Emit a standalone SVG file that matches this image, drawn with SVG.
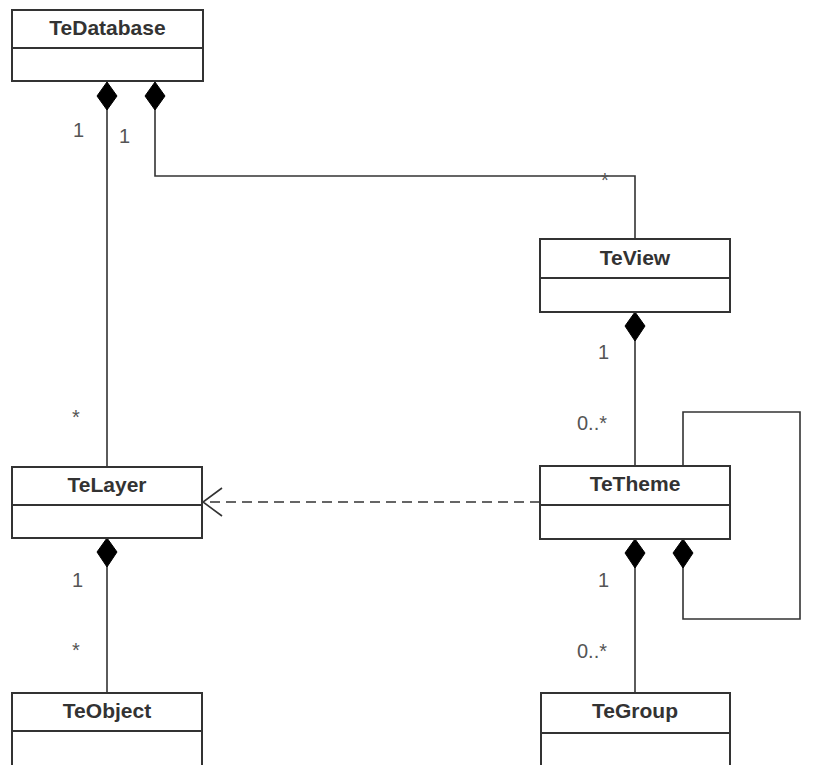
<svg xmlns="http://www.w3.org/2000/svg" width="828" height="765" viewBox="0 0 828 765">
<style>
.box{fill:#fff;stroke:#333;stroke-width:2}
.div{stroke:#333;stroke-width:2}
.t{font-family:"Liberation Sans",Arial,sans-serif;font-weight:bold;font-size:21px;fill:#333;text-anchor:middle}
.l{font-family:"Liberation Sans",Arial,sans-serif;font-size:20px;fill:#555}
.c{fill:none;stroke:#333;stroke-width:1.6}
.d{fill:#000;stroke:#000;stroke-width:1}
</style>
<rect width="828" height="765" fill="#fff"/>
<g id="connectors">
<polyline class="c" points="107,108 107,467"/>
<polyline class="c" points="155,108 155,176 635,176 635,239"/>
<polyline class="c" points="635,340 635,466"/>
<polyline class="c" points="683,466 683,412 800,412 800,619 683,619 683,566"/>
<polyline class="c" points="635,566 635,693"/>
<polyline class="c" points="107,566 107,693"/>
<line class="c" x1="540" y1="502" x2="204" y2="502" stroke-dasharray="10,6"/>
<polyline class="c" points="222,488 203,502 222,516"/>
<polygon class="d" points="107,82 117,96 107,110 97,96"/>
<polygon class="d" points="155,82 165,96 155,110 145,96"/>
<polygon class="d" points="635,312 645,326 635,341 625,326"/>
<polygon class="d" points="635,539 645,553 635,568 625,553"/>
<polygon class="d" points="683,539 693,553 683,568 673,553"/>
<polygon class="d" points="107,538 117,552 107,567 97,552"/>
<text class="l" x="73" y="137">1</text>
<text class="l" x="119" y="143">1</text>
<text class="l" x="601" y="187">*</text>
<text class="l" x="72" y="424">*</text>
<text class="l" x="598" y="359">1</text>
<text class="l" x="577" y="430">0..*</text>
<text class="l" x="598" y="587">1</text>
<text class="l" x="577" y="658">0..*</text>
<text class="l" x="72" y="587">1</text>
<text class="l" x="72" y="657">*</text>
</g>
<g id="TeDatabase">
<rect class="box" x="12" y="10" width="191" height="71"/>
<line class="div" x1="12" y1="48" x2="203" y2="48"/>
<text class="t" x="107.5" y="35">TeDatabase</text>
</g>
<g id="TeView">
<rect class="box" x="540" y="239" width="190" height="73"/>
<line class="div" x1="540" y1="278" x2="730" y2="278"/>
<text class="t" x="635" y="265">TeView</text>
</g>
<g id="TeTheme">
<rect class="box" x="540" y="466" width="190" height="73"/>
<line class="div" x1="540" y1="505" x2="730" y2="505"/>
<text class="t" x="635" y="491">TeTheme</text>
</g>
<g id="TeLayer">
<rect class="box" x="12" y="467" width="190" height="71"/>
<line class="div" x1="12" y1="505" x2="202" y2="505"/>
<text class="t" x="107" y="492">TeLayer</text>
</g>
<g id="TeObject">
<rect class="box" x="12" y="693" width="190" height="80"/>
<line class="div" x1="12" y1="731" x2="202" y2="731"/>
<text class="t" x="107" y="718">TeObject</text>
</g>
<g id="TeGroup">
<rect class="box" x="541" y="693" width="189" height="80"/>
<line class="div" x1="541" y1="733" x2="730" y2="733"/>
<text class="t" x="635" y="718">TeGroup</text>
</g>
</svg>
